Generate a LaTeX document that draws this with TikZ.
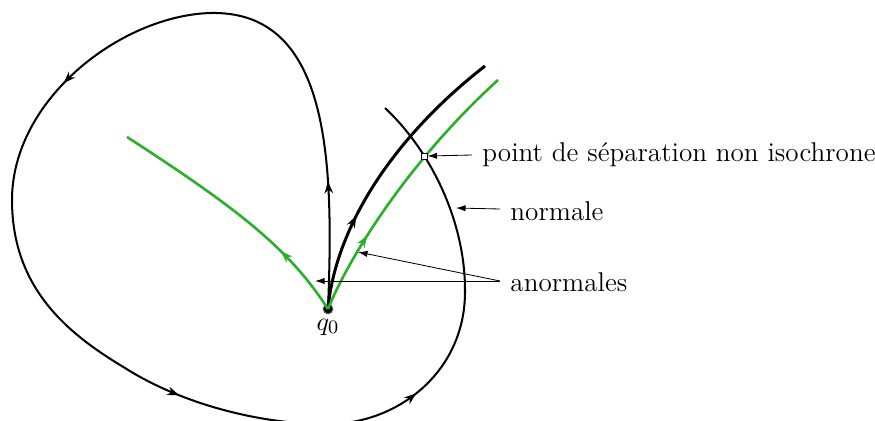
\documentclass[tikz,border=0pt]{standalone}
\usetikzlibrary{decorations.markings,arrows.meta}
\definecolor{cgreen}{RGB}{44,176,44}
\begin{document}
\begin{tikzpicture}[x=0.42pt,y=-0.42pt,
  curve/.style={line width=0.85pt,line join=round},
  thickcurve/.style={line width=1.25pt},
  greencurve/.style={line width=1.1pt,draw=cgreen},
  annot/.style={line width=0.35pt,-{Latex[length=4pt,width=2.6pt]}},
  lbl/.style={anchor=west,inner sep=0pt,font=\fontsize{11.4}{13.5}\selectfont},
  mark at/.style={postaction={decorate},decoration={markings,mark=at position #1 with {\arrow{Stealth[length=5pt,width=3.6pt]}}}},
  gmark at/.style={postaction={decorate},decoration={markings,mark=at position #1 with {\arrow[cgreen]{Stealth[length=5pt,width=3.6pt]}}}}
]
\useasboundingbox (0,0) rectangle (875,421);
\node[circle,fill=black,inner sep=0pt,minimum size=4pt,draw=black!70] (q0) at (328,309) {};
\node[inner sep=0pt,font=\fontsize{11.4}{13.5}\selectfont] (q0lbl) at (328,327) {$q_0$};
\coordinate (loopend) at (385,108);
\coordinate (thickend) at (485,66);
\coordinate (gRend) at (498,80);
\coordinate (gLend) at (127,137);
% big loop
\draw[curve,
  postaction={decorate},
  decoration={markings,
    mark=at position 0.085 with {\arrow{Stealth[length=5pt,width=3.6pt]}},
    mark=at position 0.35 with {\arrow{Stealth[length=5pt,width=3.6pt]}},
    mark=at position 0.62 with {\arrow{Stealth[length=5pt,width=3.6pt]}},
    mark=at position 0.785 with {\arrow{Stealth[length=5pt,width=3.6pt]}}}]
  (q0.center) .. controls (334,160) and (330,10) .. (210,13)
  .. controls (120,16) and (12,100) .. (12,200)
  .. controls (12,290) and (70,335) .. (125,368)
  .. controls (180,403) and (260,425) .. (330,424)
  .. controls (400,423) and (466,370) .. (465,290)
  .. controls (465,220) and (430,150) .. (loopend);
% thick black anormale
\draw[thickcurve,mark at=0.33] (q0.center) .. controls (335,230) and (390,140) .. (thickend);
% green right
\draw[greencurve,gmark at=0.29] (q0.center) .. controls (350,255) and (410,160) .. (gRend);
% green left
\draw[greencurve,gmark at=0.28] (q0.center) .. controls (290,250) and (240,210) .. (gLend);
% separation point
\node[draw,fill=white,inner sep=0pt,minimum size=2.5pt,line width=0.4pt] (sep) at (424,156) {};
\node[lbl] (tsep) at (482,155) {point de séparation non isochrone};
\node[lbl] (tnorm) at (510,211) {normale};
\node[lbl] (tanorm) at (510,282) {anormales};
\draw[annot] (tsep.west) ++(-10,0) coordinate (a1) -- (sep.east);
\coordinate (nrm) at (456,208);
\draw[annot] (tnorm.west) ++(-10,-2) -- (nrm);
\coordinate (an1) at (358,252);
\coordinate (an2) at (315,281);
\coordinate (anfrom) at (500,281);
\draw[annot] (anfrom) -- (an1);
\draw[annot] (anfrom) -- (an2);
\end{tikzpicture}
\end{document}
